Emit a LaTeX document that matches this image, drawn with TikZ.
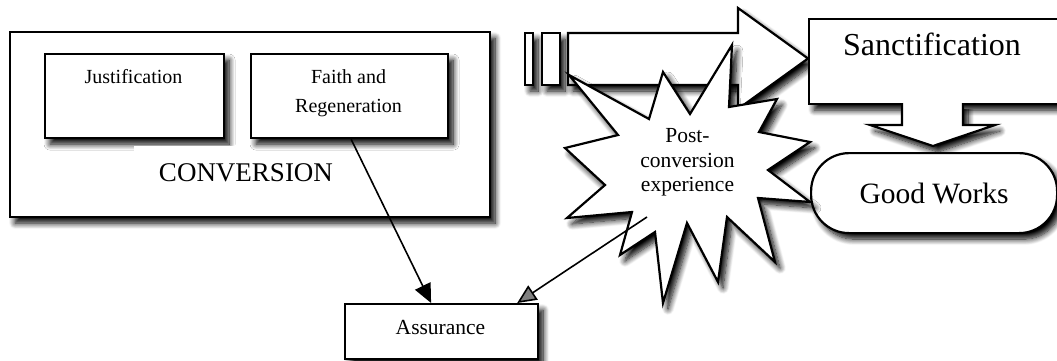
\documentclass[tikz,border=0pt]{standalone}
\usepackage{fontspec}
\setmainfont{Liberation Serif}
\usetikzlibrary{shadows.blur,arrows.meta}
\begin{document}
\begin{tikzpicture}[x=1pt,y=-1pt,
  sh/.style={blur shadow={shadow xshift=5pt,shadow yshift=-6pt,shadow blur radius=6pt,shadow opacity=100,shadow blur steps=10}},
  box/.style={draw,fill=white,line width=2.2pt,rectangle,inner sep=0pt,sh},
  outl/.style={draw,fill=white,line width=2.2pt,line join=miter,sh},
  conn/.style={line width=1.6pt,-{Triangle[length=19pt,width=17pt]}},
  fA/.style={font=\fontsize{20}{29}\selectfont,align=center,inner sep=0pt},
  fB/.style={font=\fontsize{21.5}{24.5}\selectfont,align=center,inner sep=0pt},
]
\useasboundingbox (0,0) rectangle (1057,360);

% conversion group
\node[box,anchor=north west,minimum width=480pt,minimum height=185pt] (conv) at (9,31) {};
\node[box,anchor=north west,minimum width=179pt,minimum height=84pt] (just) at (44,53) {};
\node[fA,anchor=base] (justt) at (133.5,83) {Justification};
\node[fill=white,minimum width=224pt,minimum height=54pt,inner sep=0pt,font=\fontsize{27}{30}\selectfont] (convt) at (246,173) {CONVERSION};
\node[box,anchor=north west,minimum width=197pt,minimum height=84pt] (faith) at (250,53) {};
\node[fA] (faitht) at (348.5,93) {Faith and\\Regeneration};

% assurance
\node[box,anchor=north west,minimum width=193pt,minimum height=55pt] (assur) at (344,303) {};
\node[fB] (assurt) at (440.5,327) {Assurance};
\draw[conn] ([xshift=1.5pt]faith.south) -- ([xshift=-10.5pt]assur.north);

% big arrow with small rects
\draw[outl] (525,33) rectangle (533,85);
\draw[outl] (542,33) rectangle (560,85);
\draw[outl] (568,33) -- (738,33) -- (738,8) -- (808,58.5) -- (738,109) -- (738,85) -- (568,85) -- cycle;

% sanctification
\node[box,anchor=north west,minimum width=257pt,minimum height=85pt] (sanct) at (808,18) {};
\node[inner sep=0pt,font=\fontsize{32}{36}\selectfont,anchor=base] (sanctt) at (932,55) {Sanctification};
\draw[outl] (902,103) -- (902,125) -- (870,125) -- (933,146) -- (995,125) -- (963,125) -- (963,103);

% good works
\node[box,rounded corners=38pt,anchor=north west,minimum width=246pt,minimum height=80pt,font=\fontsize{29.5}{32}\selectfont] (good) at (810,152) {Good Works};

% star
\draw[outl] (569,75) -- (649,119) -- (663,72) -- (690,114) -- (732,45) -- (729,107)
  -- (777,99) -- (759,132) -- (810,142) -- (768,170) -- (810,202) -- (758,198)
  -- (775,262) -- (727,217) -- (718,282) -- (687,223) -- (663,303) -- (655,232)
  -- (620,255) -- (632,212) -- (567,218) -- (605,185) -- (565,148) -- (618,135) -- cycle;
\node[fB] (post) at (687.5,162.5) {Post-\\conversion\\experience};
\coordinate (pc) at (647,217);
\draw[conn] (pc) -- ([xshift=-22pt]assur.north east);
\end{tikzpicture}
\end{document}
